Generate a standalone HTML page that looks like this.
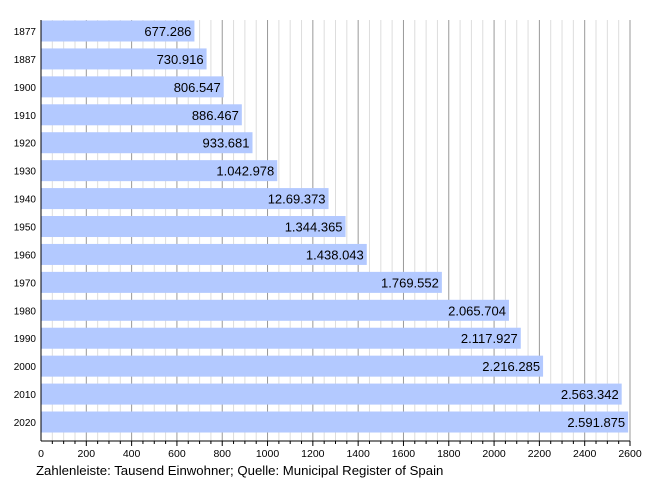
<!DOCTYPE html>
<html><head><meta charset="utf-8"><style>body{margin:0;background:#fff}svg{display:block}text{font-family:"Liberation Sans",sans-serif;fill:#000}</style></head><body>
<svg width="650" height="480" viewBox="0 0 650 480" xmlns="http://www.w3.org/2000/svg">
<g id="grid"></g>
<g id="bars"></g>
<line x1="41" y1="20" x2="41" y2="441" stroke="#000" stroke-width="1"/>
<line x1="41" y1="441" x2="630" y2="441" stroke="#000" stroke-width="1"/>
<g id="ticks"></g>
<text x="36" y="475" font-size="13.2">Zahlenleiste: Tausend Einwohner; Quelle: Municipal Register of Spain</text>
<script>
var ns="http://www.w3.org/2000/svg",s=589/2600;
function el(p,t,a,txt){var e=document.createElementNS(ns,t);for(var k in a)e.setAttribute(k,a[k]);if(txt)e.textContent=txt;document.getElementById(p).appendChild(e);}
for(var v=50;v<=2600;v+=50){var x=41+v*s;el("grid","line",{x1:x,y1:20,x2:x,y2:441,stroke:v%200==0?"#999":"#ddd","stroke-width":1});
el("ticks","line",{x1:x,y1:441,x2:x,y2:v%200==0?446:444,stroke:"#000"});}
for(var v=0;v<=2600;v+=200){el("ticks","text",{x:41+v*s,y:457,"font-size":"10.5","text-anchor":"middle"},String(v));}
var d=[["1877",677.286,"677.286"],["1887",730.916,"730.916"],["1900",806.547,"806.547"],["1910",886.467,"886.467"],["1920",933.681,"933.681"],["1930",1042.978,"1.042.978"],["1940",1269.373,"12.69.373"],["1950",1344.365,"1.344.365"],["1960",1438.043,"1.438.043"],["1970",1769.552,"1.769.552"],["1980",2065.704,"2.065.704"],["1990",2117.927,"2.117.927"],["2000",2216.285,"2.216.285"],["2010",2563.342,"2.563.342"],["2020",2591.875,"2.591.875"]];
d.forEach(function(r,i){var y=20.5+i*27.93,w=r[1]*s;
el("bars","rect",{x:41,y:y,width:w,height:21,fill:"#b3c9ff"});
el("bars","text",{x:41+w-3,y:y+15.5,"font-size":"13","text-anchor":"end"},r[2]);
el("bars","text",{x:36,y:y+14.5,"font-size":"10","text-anchor":"end"},r[0]);});
</script>
</svg>
</body></html>
